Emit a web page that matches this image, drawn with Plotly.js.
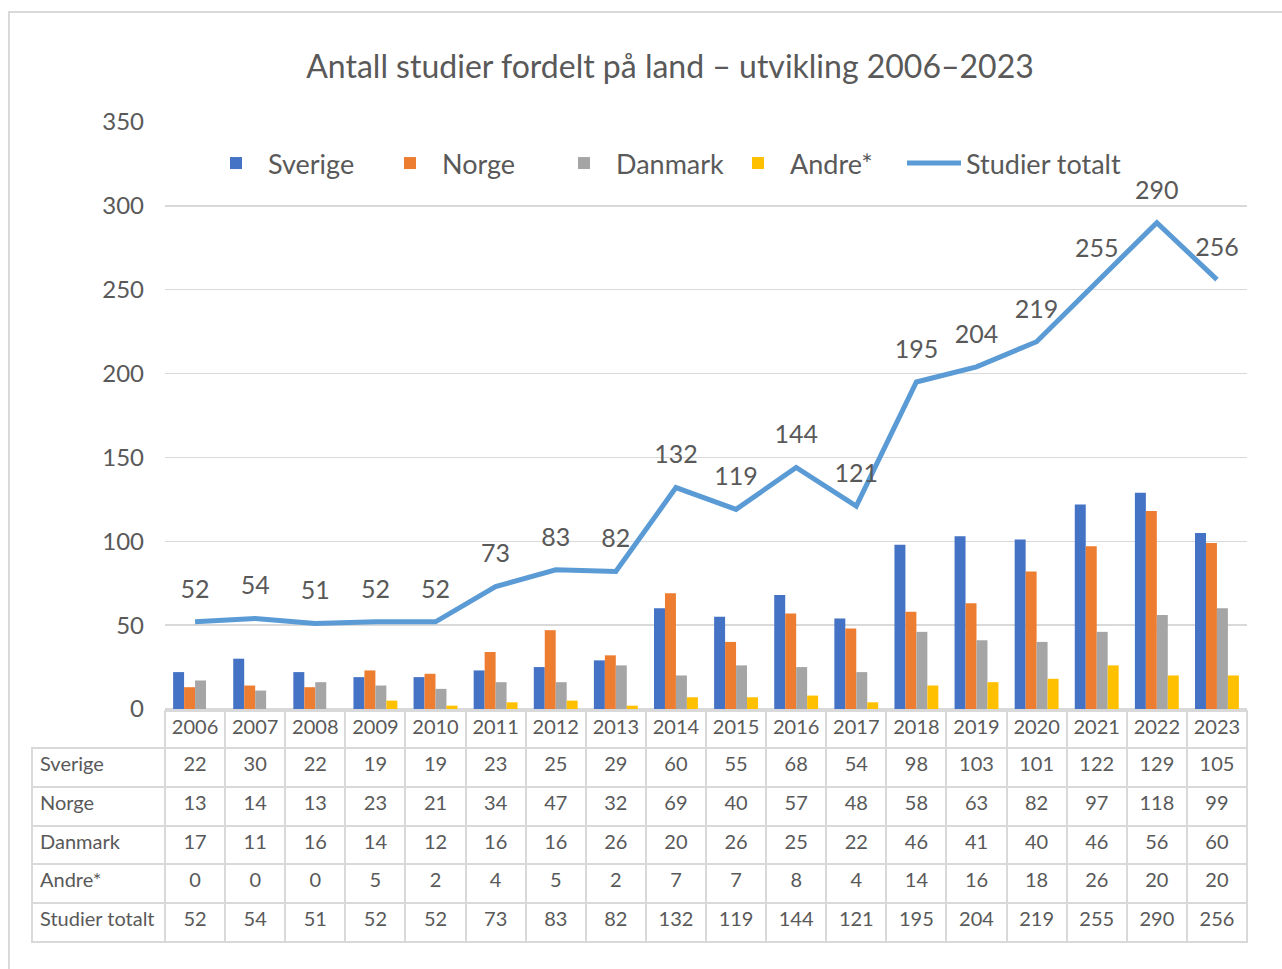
<!DOCTYPE html>
<html>
<head>
<meta charset="utf-8">
<script src="https://cdn.plot.ly/plotly-3.0.1.min.js"></script>
<style>html,body{margin:0;padding:0;background:#fff;}#chart{width:1282px;height:969px;}</style>
</head>
<body>
<div id="chart"></div>
<script>
const years = ['2006','2007','2008','2009','2010','2011','2012','2013','2014','2015','2016','2017','2018','2019','2020','2021','2022','2023'];
const sverige = [22,30,22,19,19,23,25,29,60,55,68,54,98,103,101,122,129,105];
const norge   = [13,14,13,23,21,34,47,32,69,40,57,48,58,63,82,97,118,99];
const danmark = [17,11,16,14,12,16,16,26,20,26,25,22,46,41,40,46,56,60];
const andre   = [0,0,0,5,2,4,5,2,7,7,8,4,14,16,18,26,20,20];
const totalt  = [52,54,51,52,52,73,83,82,132,119,144,121,195,204,219,255,290,256];
const rowLabels = ['Sverige','Norge','Danmark','Andre*','Studier\u00a0totalt'];

const W = 1282, H = 969;
const FONT = 'Lato, "Noto Sans", sans-serif';
const TXT = '#595959';
const GRID = '#d9d9d9';

const traces = [
  {type:'bar', name:'Sverige', x:years, y:sverige, marker:{color:'#4472C4'}, hoverinfo:'skip'},
  {type:'bar', name:'Norge', x:years, y:norge, marker:{color:'#ED7D31'}, hoverinfo:'skip'},
  {type:'bar', name:'Danmark', x:years, y:danmark, marker:{color:'#A5A5A5'}, hoverinfo:'skip'},
  {type:'bar', name:'Andre*', x:years, y:andre, marker:{color:'#FFC000'}, hoverinfo:'skip'},
  {type:'scatter', mode:'lines+markers+text', name:'Studier totalt', x:years, y:totalt, legend:'legend2',
   text: totalt.map(String), textposition:'top center',
   textfont:{family:FONT, size:25, color:TXT},
   marker:{size:27, color:'rgba(0,0,0,0)', line:{width:0}},
   line:{color:'#5B9BD5', width:5}, cliponaxis:false, hoverinfo:'skip'}
];

const cellCols = [rowLabels].concat(years.map((_, i) => [sverige[i], norge[i], danmark[i], andre[i], totalt[i]]));
const headerLine = ['rgba(255,255,255,0)'].concat(years.map(() => GRID));
const headerFill = ['rgba(255,255,255,0)'].concat(years.map(() => '#ffffff'));
traces.push({
  type:'table',
  domain:{x:[32/W, 1247/W], y:[0, 1 - 711/H]},
  columnwidth:[133].concat(years.map(() => 60.1)),
  header:{
    values:[''].concat(years),
    align:'center',
    height:37,
    line:{color:headerLine, width:2},
    fill:{color:headerFill},
    font:{family:FONT, size:20, color:TXT}
  },
  cells:{
    values:cellCols,
    align:['left'].concat(years.map(() => 'center')),
    height:38.8,
    line:{color:GRID, width:2},
    fill:{color:'#ffffff'},
    font:{family:FONT, size:20, color:TXT}
  }
});

const legendCommon = {orientation:'h', xanchor:'left', y:1 - 139/H, yanchor:'top',
  font:{family:FONT, size:27, color:TXT}, itemwidth:54, bgcolor:'rgba(0,0,0,0)', traceorder:'normal'};

const layout = {
  width:W, height:H,
  margin:{l:0, r:0, t:0, b:0},
  paper_bgcolor:'#ffffff', plot_bgcolor:'#ffffff',
  font:{family:FONT, color:TXT},
  title:{text:'Antall studier fordelt på land – utvikling 2006–2023', x:670/W, xanchor:'center', xref:'paper',
         y:1 - 67/H, yanchor:'middle', yref:'paper', font:{family:FONT, size:32, color:TXT}},
  barmode:'group', bargap:0.27, bargroupgap:0,
  xaxis:{type:'category', domain:[165/W, 1247/W], range:[-0.5, 17.5], showticklabels:false,
         showgrid:false, zeroline:false, showline:false, ticks:'', fixedrange:true},
  yaxis:{domain:[1 - 709/H, 1 - 122/H], range:[0, 350], dtick:50, tick0:0, showgrid:true, gridcolor:GRID, gridwidth:1.5,
         zeroline:true, zerolinecolor:GRID, zerolinewidth:1.5, showline:false, ticks:'',
         tickfont:{family:FONT, size:24, color:TXT}, ticklabelstandoff:20, fixedrange:true},
  showlegend:true,
  legend:Object.assign({}, legendCommon, {x:204/W, entrywidth:105, entrywidthmode:'pixels'}),
  legend2:Object.assign({}, legendCommon, {x:902/W}),
  shapes:[{type:'rect', xref:'paper', yref:'paper', x0:9/W, x1:1.02, y0:-0.02, y1:1 - 12/H,
           line:{color:GRID, width:2}, fillcolor:'rgba(0,0,0,0)', layer:'below'}]
};

Plotly.newPlot('chart', traces, layout, {staticPlot:true, displayModeBar:false});
</script>
</body>
</html>
